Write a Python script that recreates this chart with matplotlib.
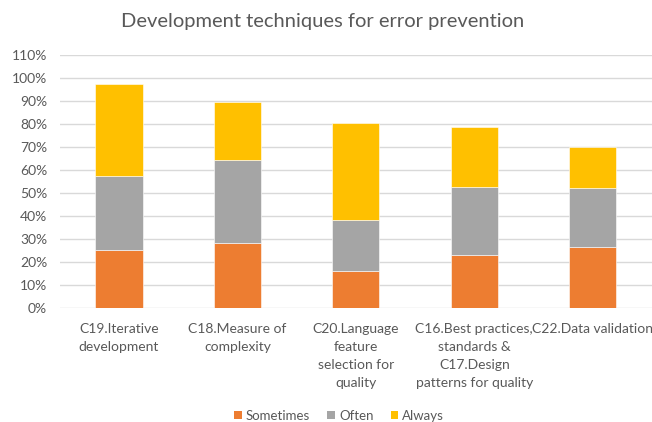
import matplotlib
matplotlib.use("Agg")
import matplotlib.pyplot as plt
from matplotlib.ticker import FuncFormatter, MultipleLocator
from matplotlib.patches import Patch

categories = ["C19.Iterative\ndevelopment", "C18.Measure of\ncomplexity",
              "C20.Language\nfeature\nselection for\nquality",
              "C16.Best practices,\nstandards &\nC17.Design\npatterns for quality",
              "C22.Data validation"]
sometimes = [25.1, 28.3, 15.9, 22.7, 26.4]
often = [32.2, 35.8, 22.1, 29.8, 25.7]
always = [39.8, 25.5, 42.5, 25.9, 17.9]
series_names = ["Sometimes", "Often", "Always"]
colors = ["#ED7D31", "#A5A5A5", "#FFC000"]

plt.rcParams['font.family'] = ['Lato', 'DejaVu Sans']
fig = plt.figure(figsize=(6.52, 4.22), dpi=100)
ax = fig.add_axes([0.0914, 0.2709, 0.9086, 0.5995])

x = range(len(categories))
b1 = [s for s in sometimes]
b2 = [s + o for s, o in zip(sometimes, often)]
ax.bar(x, sometimes, width=0.4, color=colors[0], edgecolor="white", linewidth=0.4, zorder=3)
ax.bar(x, often, bottom=b1, width=0.4, color=colors[1], edgecolor="white", linewidth=0.4, zorder=3)
ax.bar(x, always, bottom=b2, width=0.4, color=colors[2], edgecolor="white", linewidth=0.4, zorder=3)

ax.set_xlim(-0.5, len(categories) - 0.5)
ax.set_ylim(0, 110)
ax.yaxis.set_major_locator(MultipleLocator(10))
ax.yaxis.set_major_formatter(FuncFormatter(lambda v, p: f"{int(round(v))}%"))
ax.grid(axis="y", color="#D9D9D9", linewidth=1, zorder=0)
for s in ["top", "right", "left", "bottom"]:
    ax.spines[s].set_visible(False)
ax.tick_params(axis="both", length=0, colors="#595959", labelsize=10)
ax.tick_params(axis="y", pad=9)
ax.tick_params(axis="x", pad=11)
ax.set_xticks(list(x))
ax.set_xticklabels(categories, linespacing=1.6, color="#595959")

fig.text(0.495, 0.950, "Development techniques for error prevention", ha="center", va="center",
         fontsize=14.5, color="#595959")

handles = [Patch(facecolor=c, edgecolor="none") for c in colors]
fig.legend(handles, series_names, loc="center", bbox_to_anchor=(0.52, 0.015), ncol=3,
           frameon=False, fontsize=9.5, handlelength=0.6, handleheight=0.6,
           handletextpad=0.3, columnspacing=1.3, labelcolor="#595959")

fig.savefig("out.png", dpi=100)
